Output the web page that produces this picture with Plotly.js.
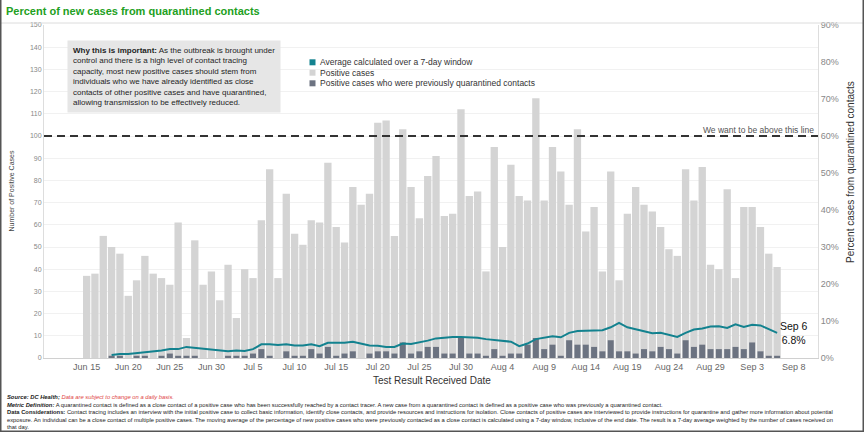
<!DOCTYPE html>
<html><head><meta charset="utf-8">
<script src="https://cdn.plot.ly/plotly-3.0.1.min.js"></script>
<style>html,body{margin:0;padding:0;background:#fff}#chart{width:864px;height:432px}</style>
</head><body><div id="chart"></div>
<script>
const dates = [
'2020-06-15','2020-06-16','2020-06-17','2020-06-18','2020-06-19','2020-06-20','2020-06-21','2020-06-22','2020-06-23','2020-06-24','2020-06-25','2020-06-26','2020-06-27','2020-06-28','2020-06-29','2020-06-30',
'2020-07-01','2020-07-02','2020-07-03','2020-07-04','2020-07-05','2020-07-06','2020-07-07','2020-07-08','2020-07-09','2020-07-10','2020-07-11','2020-07-12','2020-07-13','2020-07-14','2020-07-15','2020-07-16','2020-07-17','2020-07-18','2020-07-19','2020-07-20','2020-07-21','2020-07-22','2020-07-23','2020-07-24','2020-07-25','2020-07-26','2020-07-27','2020-07-28','2020-07-29','2020-07-30','2020-07-31',
'2020-08-01','2020-08-02','2020-08-03','2020-08-04','2020-08-05','2020-08-06','2020-08-07','2020-08-08','2020-08-09','2020-08-10','2020-08-11','2020-08-12','2020-08-13','2020-08-14','2020-08-15','2020-08-16','2020-08-17','2020-08-18','2020-08-19','2020-08-20','2020-08-21','2020-08-22','2020-08-23','2020-08-24','2020-08-25','2020-08-26','2020-08-27','2020-08-28','2020-08-29','2020-08-30','2020-08-31',
'2020-09-01','2020-09-02','2020-09-03','2020-09-04','2020-09-05','2020-09-06'];

const positiveCases = [
37,38,55,50,47,28,35,46,38,36,33,61,9,53,33,39,
26,42,18,40,36,62,85,36,74,56,51,62,61,88,59,52,77,69,74,106,107,55,103,77,63,82,91,64,65,112,73,
75,39,95,50,87,73,71,117,71,95,84,69,103,57,68,39,84,35,65,77,69,66,59,49,46,85,71,86,42,40,76,
36,68,68,59,47,41];

const quarantinedCases = [
0,0,0,1,1,0,1,1,0,1,2,1,1,1,0,0,
0,1,1,1,2,4,1,0,3,1,1,4,2,5,1,2,3,0,2,3,3,2,7,2,3,5,5,2,2,9,2,
2,1,4,1,2,2,6,9,4,6,1,8,6,6,5,3,8,3,3,2,4,3,5,4,2,8,5,6,4,4,4,
5,4,7,3,1,1];

const avgPct = [
null,null,null,0.8,1.1,1.1,1.3,1.5,1.6,2.0,2.4,2.4,3.0,2.8,2.6,2.4,
2.2,1.8,2.0,1.9,2.4,3.7,3.7,3.5,3.7,3.4,3.4,3.7,3.2,4.1,4.1,4.1,4.4,3.9,3.4,3.3,3.0,3.0,3.9,3.8,4.2,4.7,5.3,5.6,5.7,5.7,5.7,
5.5,5.1,4.8,4.6,4.4,3.2,3.9,5.1,5.5,5.9,5.6,6.8,7.3,7.3,7.3,7.5,8.3,9.5,8.3,7.8,7.3,6.7,6.8,6.3,5.7,6.8,7.7,8.0,8.5,8.6,8.1,
9.1,8.4,9.0,8.8,7.8,6.8];

const tickDates = ['2020-06-15','2020-06-20','2020-06-25','2020-06-30','2020-07-05','2020-07-10','2020-07-15','2020-07-20','2020-07-25','2020-07-30','2020-08-04','2020-08-09','2020-08-14','2020-08-19','2020-08-24','2020-08-29','2020-09-03','2020-09-08'];
const tickText = ['Jun 15','Jun 20','Jun 25','Jun 30','Jul 5','Jul 10','Jul 15','Jul 20','Jul 25','Jul 30','Aug 4','Aug 9','Aug 14','Aug 19','Aug 24','Aug 29','Sep 3','Sep 8'];
const leftTicks = [0,10,20,30,40,50,60,70,80,90,100,110,120,130,140,150];
const rightTicks = [0,10,20,30,40,50,60,70,80,90];
const rightTickText = ['0%','10%','20%','30%','40%','50%','60%','70%','80%','90%'];
const targetCases = [100];
const lastLabel = ['Sep 6'];

const FONT = 'Liberation Sans, Arial, sans-serif';
const TEAL = '#13828f', LIGHT = '#d4d4d4', DARK = '#6c7381';
const W = 864, H = 432, ML = 44, MR = 46, MT = 25, MB = 74;
const PW = W - ML - MR, PH = H - MT - MB;
const px = p => (p - ML) / PW;
const py = p => (H - MB - p) / PH;
const DAY = 86400000;

const traces = [
  {type:'bar', x:dates, y:positiveCases, width:0.88*DAY, marker:{color:LIGHT}, name:'Positive cases', showlegend:false, hoverinfo:'skip'},
  {type:'bar', x:dates, y:quarantinedCases, width:0.72*DAY, marker:{color:DARK}, name:'Positive cases who were previously quarantined contacts', showlegend:false, hoverinfo:'skip'},
  {type:'scatter', mode:'lines', x:dates, y:avgPct, yaxis:'y2', line:{color:TEAL, width:2}, connectgaps:false, showlegend:false, hoverinfo:'skip'}
];

const ann = [];
const shapes = [];
function txt(x, y, text, size, color, xa, ya, extra) {
  ann.push(Object.assign({xref:'paper', yref:'paper', x:px(x), y:py(y), text:text, showarrow:false,
    xanchor:xa||'left', yanchor:ya||'middle', font:{family:FONT, size:size, color:color}}, extra||{}));
}
// info box
txt(67, 40, '<b>Why this is important:</b> As the outbreak is brought under<br>control and there is a high level of contact tracing<br>capacity, most new positive cases should stem from<br>individuals who we have already identified as close<br>contacts of other positive cases and have quarantined,<br>allowing transmission to be effectively reduced.',
  8, '#1e1e1e', 'left', 'top', {align:'left', bgcolor:'#e6e6e6', borderpad:5});
// legend
const legendItems = [['Average calculated over a 7-day window', TEAL], ['Positive cases', LIGHT], ['Positive cases who were previously quarantined contacts', DARK]];
const legendY = [62.3, 72.7, 83.3];
legendItems.forEach((it, i) => {
  shapes.push({type:'rect', xref:'paper', yref:'paper', x0:px(309.5), x1:px(315.5), y0:py(legendY[i]-3), y1:py(legendY[i]+3), fillcolor:it[1], line:{width:0}});
  txt(318, legendY[i], it[0], 8.5, '#333');
});
// target line
shapes.push({type:'line', xref:'paper', yref:'y', x0:0, x1:1, y0:targetCases[0], y1:targetCases[0], line:{color:'#333', width:2, dash:'8px,5px'}});
txt(816, 129.5, 'We want to be above this line', 8.5, '#555', 'right', 'middle');
// last value label
ann.push({xref:'x', yref:'y2', x:dates[dates.length-1], y:avgPct[avgPct.length-1], text:lastLabel[0]+'<br>'+avgPct[avgPct.length-1].toFixed(1)+'%',
  showarrow:false, xanchor:'left', yanchor:'middle', xshift:1, font:{family:FONT, size:10.5, color:'#111'}});
// axis titles
txt(10.5, 191, 'Number of Positive Cases', 7, '#444', 'center', 'middle', {textangle:-90});
txt(850, 172, 'Percent cases from quarantined contacts', 10, '#333', 'center', 'middle', {textangle:-90});
txt(432, 381, 'Test Result Received Date', 10, '#333', 'center', 'middle');
// notes
txt(5, 391.5, '<b><i>Source: DC Health;</i></b> <i><span style="color:#e04545">Data are subject to change on a daily basis.</span></i><br>' +
  '<b><i>Metric Definition:</i></b> A quarantined contact is defined as a close contact of a positive case who has been successfully reached by a contact tracer. A new case from a quarantined contact is defined as a positive case who was previously a quarantined contact.<br>' +
  '<b>Data Considerations:</b> Contact tracing includes an interview with the initial positive case to collect basic information, identify close contacts, and provide resources and instructions for isolation. Close contacts of positive cases are interviewed to provide instructions for quarantine and gather more information about potential<br>' +
  'exposure. An individual can be a close contact of multiple positive cases. The moving average of the percentage of new positive cases who were previously contacted as a close contact is calculated using a 7-day window, inclusive of the end date. The result is a 7-day average weighted by the number of cases received on<br>' +
  'that day.', 5.8, '#222', 'left', 'top', {align:'left'});
// frame + separator
shapes.push({type:'line', xref:'paper', yref:'paper', x0:px(0), x1:px(W), y0:py(23), y1:py(23), line:{color:'#dcdcdc', width:1}});
shapes.push({type:'line', xref:'paper', yref:'paper', x0:px(0.75), x1:px(0.75), y0:py(0), y1:py(H), line:{color:'#555', width:1.5}});
shapes.push({type:'line', xref:'paper', yref:'paper', x0:px(W-0.75), x1:px(W-0.75), y0:py(0), y1:py(H), line:{color:'#555', width:1.5}});
shapes.push({type:'line', xref:'paper', yref:'paper', x0:px(0), x1:px(W), y0:py(H-0.75), y1:py(H-0.75), line:{color:'#555', width:1.5}});

const layout = {
  width:W, height:H, margin:{l:ML, r:MR, t:MT, b:MB, pad:0},
  paper_bgcolor:'#fff', plot_bgcolor:'#fff', barmode:'overlay', showlegend:false,
  font:{family:FONT},
  title:{text:'<b>Percent of new cases from quarantined contacts</b>', font:{family:FONT, size:11, color:'#22a022'}, x:6/W, xanchor:'left', xref:'container', y:1-11/H, yanchor:'middle', yref:'container'},
  xaxis:{type:'date', range:['2020-06-09 21:00','2020-09-10 22:00'], tickvals:tickDates, ticktext:tickText, tickfont:{size:9, color:'#666'}, showgrid:false, showline:true, linecolor:'#d0d0d0', zeroline:false, ticks:''},
  yaxis:{range:[0,150], tickvals:leftTicks, tickfont:{size:7, color:'#888'}, gridcolor:'#f1f1f1', showline:true, linecolor:'#dddddd', zeroline:false, ticks:''},
  yaxis2:{range:[0,90], overlaying:'y', side:'right', tickvals:rightTicks, ticktext:rightTickText, tickfont:{size:9, color:'#888'}, showgrid:false, showline:true, linecolor:'#dddddd', zeroline:false, ticks:''},
  annotations:ann, shapes:shapes
};
Plotly.newPlot('chart', traces, layout, {displayModeBar:false, staticPlot:true});
</script></body></html>
